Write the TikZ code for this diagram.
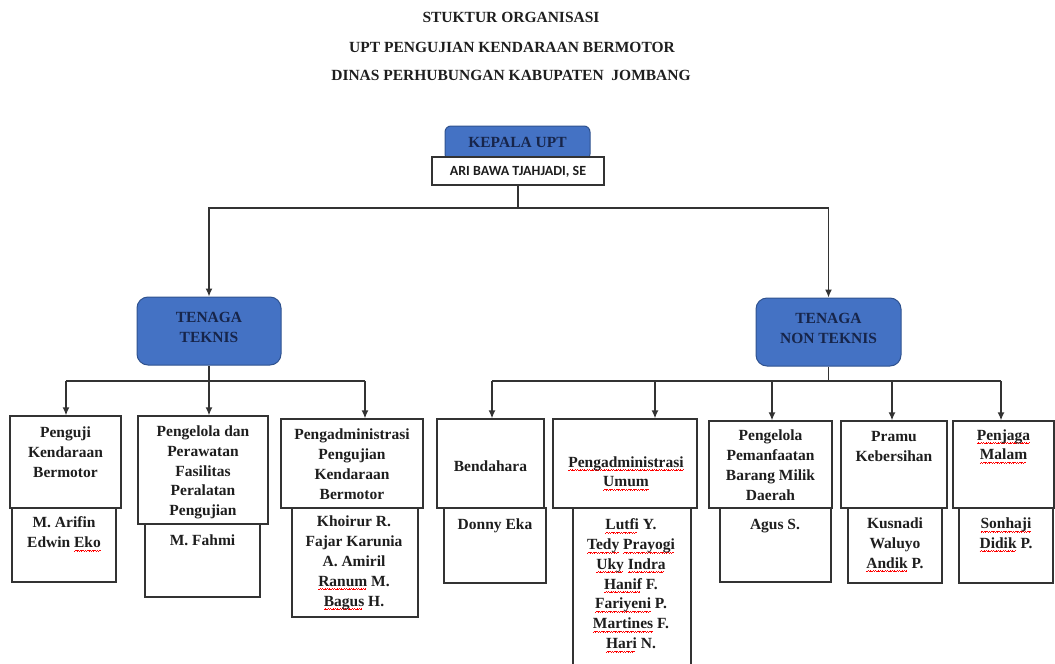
\documentclass[tikz,border=0pt]{standalone}
\usepackage{fontspec}
\setmainfont{Liberation Serif}
\newfontfamily\calib{Carlito}
\usetikzlibrary{arrows.meta}
\definecolor{bluefill}{HTML}{4472C4}
\definecolor{blueedge}{HTML}{2F528F}
\definecolor{navy}{HTML}{17254A}
\definecolor{bd}{HTML}{333333}
\definecolor{tx}{HTML}{1E1E1E}
\newcommand\sq[1]{\leavevmode\setbox0\hbox{#1}\rlap{\color{red}\hbox to\wd0{\leaders\hbox to 2.4pt{\rule[-3.6pt]{0.8pt}{0.6pt}\rule[-3.1pt]{0.8pt}{0.6pt}\rule[-2.6pt]{0.8pt}{0.6pt}}\hfill}}\box0\relax}
\begin{document}
\begin{tikzpicture}[x=1pt,y=-1pt,
  boxw/.style={draw=bd, line width=1.3pt, fill=white, inner sep=0pt},
  bluebox/.style={draw=blueedge, line width=1pt, fill=bluefill, inner sep=0pt},
  txt/.style={align=center, inner sep=0pt, text=tx, font=\fontsize{15.5}{19.8}\selectfont\bfseries},
  btxt/.style={align=center, inner sep=0pt, text=navy, font=\fontsize{15.5}{20}\selectfont\bfseries},
  ttl/.style={inner sep=0pt, text=tx, font=\fontsize{15.5}{18}\selectfont\bfseries},
  conn/.style={draw=bd, line width=1.4pt},
  arr/.style={conn, -{Latex[length=8pt,width=7pt]}}]
\useasboundingbox (0,0) rectangle (1055,664);
\clip (0,0) rectangle (1055,664);
% titles
\node[ttl] (title1) at (511,17) {STUKTUR ORGANISASI};
\node[ttl] (title2) at (512,47) {UPT PENGUJIAN KENDARAAN BERMOTOR};
\node[ttl] (title3) at (511,75) {DINAS PERHUBUNGAN KABUPATEN \ JOMBANG};
% head
\node[bluebox, rounded corners=6pt, minimum width=145pt, minimum height=34pt] (kepala) at (517.5,143) {};
\node[btxt] (kepalat) at (517.5,142) {KEPALA UPT};
\node[boxw, minimum width=172pt, minimum height=28pt] (ari) at (518,171) {};
\node[inner sep=0pt, text=tx, font=\calib\fontsize{14}{16}\selectfont\bfseries] (arit) at (518,172) {ARI BAWA TJAHJADI, SE};
% level 2
\node[bluebox, rounded corners=11pt, minimum width=144pt, minimum height=68pt] (teknis) at (209,331) {};
\node[btxt] (teknist) at (209,327) {TENAGA\\TEKNIS};
\node[bluebox, rounded corners=11pt, minimum width=145pt, minimum height=68pt] (nonteknis) at (828.5,332) {};
\node[btxt] (nonteknist) at (828.5,328) {TENAGA\\NON TEKNIS};
% connectors top
\coordinate (j0) at (518,208);
\draw[conn] (ari.south) -- (j0);
\draw[arr] (j0) -| (teknis.north);
\draw[arr] (j0) -| (nonteknis.north);
% boxes: headers
\node[boxw, minimum width=111pt, minimum height=92pt] (h1) at (65.5,462) {};
\node[boxw, minimum width=130pt, minimum height=108pt] (h2) at (203,470) {};
\node[boxw, minimum width=142pt, minimum height=89pt] (h3) at (352,463.5) {};
\node[boxw, minimum width=107pt, minimum height=89pt] (h4) at (490.5,463.5) {};
\node[boxw, minimum width=144pt, minimum height=89pt] (h5) at (625,463.5) {};
\node[boxw, minimum width=123pt, minimum height=87pt] (h6) at (770.5,464.5) {};
\node[boxw, minimum width=106pt, minimum height=87pt] (h7) at (894,464.5) {};
\node[boxw, minimum width=101pt, minimum height=87pt] (h8) at (1003.5,464.5) {};
% name boxes
\node[boxw, minimum width=104pt, minimum height=74pt] (n1) at (64,545) {};
\node[boxw, minimum width=115pt, minimum height=73pt] (n2) at (202.5,560.5) {};
\node[boxw, minimum width=126pt, minimum height=109pt] (n3) at (355,562.5) {};
\node[boxw, minimum width=102pt, minimum height=75pt] (n4) at (495,545.5) {};
\node[boxw, minimum width=118pt, minimum height=162pt] (n5) at (632,589) {};
\node[boxw, minimum width=111pt, minimum height=74pt] (n6) at (775.5,545) {};
\node[boxw, minimum width=94pt, minimum height=75pt] (n7) at (895,545.5) {};
\node[boxw, minimum width=94pt, minimum height=75pt] (n8) at (1006,545.5) {};
% redraw header bottoms over name boxes
\draw[conn, line width=1.3pt] (h1.south west) -- (h1.south east);
\draw[conn, line width=1.3pt] (h2.south west) -- (h2.south east);
\draw[conn, line width=1.3pt] (h3.south west) -- (h3.south east);
\draw[conn, line width=1.3pt] (h4.south west) -- (h4.south east);
\draw[conn, line width=1.3pt] (h5.south west) -- (h5.south east);
\draw[conn, line width=1.3pt] (h6.south west) -- (h6.south east);
\draw[conn, line width=1.3pt] (h7.south west) -- (h7.south east);
\draw[conn, line width=1.3pt] (h8.south west) -- (h8.south east);
% header texts
\node[txt] (h1t) at (65.5,452) {Penguji\\Kendaraan\\Bermotor};
\node[txt] (h2t) at (203,472.5) {Pengelola dan\\Perawatan\\Fasilitas\\Peralatan\\Pengujian};
\node[txt] (h3t) at (352,464) {Pengadministrasi\\Pengujian\\Kendaraan\\Bermotor};
\node[txt] (h4t) at (490.5,466) {Bendahara};
\node[txt] (h5t) at (626,473.5) {\sq{Pengadministrasi}\\\sq{Umum}};
\node[txt] (h6t) at (770.5,465) {Pengelola\\Pemanfaatan\\Barang Milik\\Daerah};
\node[txt] (h7t) at (894,446.5) {Pramu\\Kebersihan};
\node[txt] (h8t) at (1003.5,446.5) {\sq{Penjaga}\\\sq{Malam}};
% name texts
\node[txt] (n1t) at (64,534) {M. Arifin\\Edwin \sq{Eko}};
\node[txt] (n2t) at (202.5,540) {M. Fahmi};
\node[txt] (n3t) at (354,563) {Khoirur R.\\Fajar Karunia\\A. Amiril\\\sq{Ranum} M.\\\sq{Bagus} H.};
\node[txt] (n4t) at (495,526) {Donny Eka};
\node[txt] (n5t) at (631,585.5) {\sq{Lutfi} Y.\\\sq{Tedy} \sq{Prayogi}\\\sq{Uky} \sq{Indra}\\\sq{Hanif} F.\\\sq{Fariyeni} P.\\\sq{Martines} F.\\\sq{Hari} N.};
\node[txt] (n6t) at (775,526) {Agus S.};
\node[txt] (n7t) at (895,545) {Kusnadi\\Waluyo\\\sq{Andik} P.};
\node[txt] (n8t) at (1006,535) {\sq{Sonhaji}\\\sq{Didik} P.};
% teknis bus
\coordinate (tb) at (209,381);
\coordinate (t1) at (66,381);
\coordinate (t3) at (365,381);
\draw[conn] (teknis.south) -- (tb);
\draw[conn] (t1) -- (t3);
\draw[arr] (t1) -- (t1 |- h1.north);
\draw[arr] (tb) -- (tb |- h2.north);
\draw[arr] (t3) -- (t3 |- h3.north);
% non-teknis bus
\coordinate (nb) at (828.5,381);
\coordinate (b1) at (492,381);
\coordinate (b2) at (655,381);
\coordinate (b3) at (772,381);
\coordinate (b4) at (892,381);
\coordinate (b5) at (1001,381);
\draw[conn] (nonteknis.south) -- (nb);
\draw[conn] (b1) -- (b5);
\draw[arr] (b1) -- (b1 |- h4.north);
\draw[arr] (b2) -- (b2 |- h5.north);
\draw[arr] (b3) -- (b3 |- h6.north);
\draw[arr] (b4) -- (b4 |- h7.north);
\draw[arr] (b5) -- (b5 |- h8.north);
\end{tikzpicture}
\end{document}
